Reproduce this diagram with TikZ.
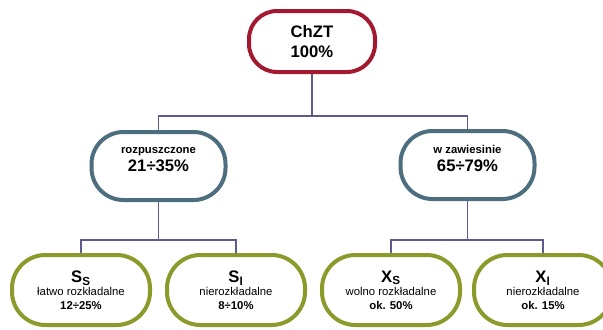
\documentclass[tikz,border=0pt]{standalone}
\usepackage{fontspec}
\setmainfont{Liberation Sans}
\usetikzlibrary{positioning}

\definecolor{chztred}{HTML}{A31A30}
\definecolor{midblue}{HTML}{4C6E7E}
\definecolor{olive}{HTML}{8C9A2C}
\definecolor{busline}{HTML}{5C5B8E}

\begin{document}
\begin{tikzpicture}[x=0.75pt,y=-0.75pt,
  pill/.style={rectangle,draw,line width=3pt,fill=white,inner sep=0pt,align=center},
  topbox/.style={pill,draw=chztred,minimum width=94.5pt,minimum height=45.75pt,rounded corners=21pt,
    font=\fontsize{12.5}{15}\selectfont\bfseries},
  midbox/.style={pill,draw=midblue,minimum width=100.5pt,minimum height=51pt,rounded corners=24pt,text depth=10pt,
    font=\fontsize{12.5}{13}\selectfont\bfseries},
  lowbox/.style={pill,draw=olive,minimum width=103.5pt,minimum height=52.5pt,rounded corners=25pt,
    font=\fontsize{8.5}{10}\selectfont},
  bus/.style={draw=busline,line width=1.1pt}]
\useasboundingbox (0,0) rectangle (603,329);

\path (312,41.5) node[topbox](ChZT) {ChZT\\100\%}
(158.5,166) node[midbox](Rozp) {{\fontsize{8.5}{10}\selectfont rozpuszczone}\\21÷35\%}
(467.5,165) node[midbox](Zaw) {{\fontsize{8.5}{10}\selectfont w zawiesinie}\\65÷79\%}
(81,290) node[lowbox](Ss) {{\fontsize{12.5}{12}\selectfont\bfseries S\textsubscript{S}}\\łatwo rozkładalne\\{\bfseries 12÷25\%}}
(236,290) node[lowbox](Sl) {{\fontsize{12.5}{12}\selectfont\bfseries S\textsubscript{l}}\\nierozkładalne\\{\bfseries 8÷10\%}}
(391,290) node[lowbox](Xs) {{\fontsize{12.5}{12}\selectfont\bfseries X\textsubscript{S}}\\wolno rozkładalne\\{\bfseries ok. 50\%}}
(543,290) node[lowbox](Xl) {{\fontsize{12.5}{12}\selectfont\bfseries X\textsubscript{l}}\\nierozkładalne\\{\bfseries ok. 15\%}}
;
\draw[bus] (ChZT) -- ++(0,74.5) -| (Rozp);
\draw[bus] (ChZT) -- ++(0,74.5) -| (Zaw);
\draw[bus] (Rozp) -- ++(0,74) -| (Ss);
\draw[bus] (Rozp) -- ++(0,74) -| (Sl);
\draw[bus] (Zaw) -- ++(0,75) -| (Xs);
\draw[bus] (Zaw) -- ++(0,75) -| (Xl);

\end{tikzpicture}
\end{document}
